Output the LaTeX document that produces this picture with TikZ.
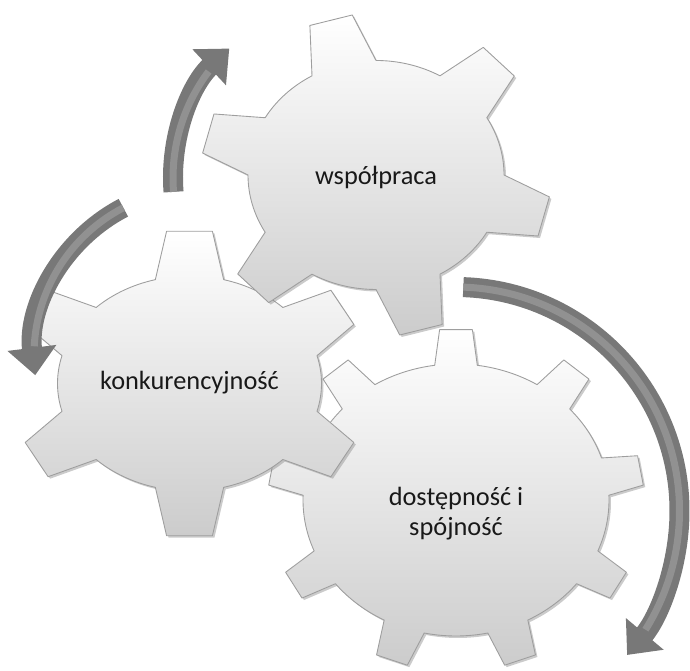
\documentclass[tikz,border=0pt]{standalone}
\usepackage{fontspec}
\setmainfont{Carlito}
\usetikzlibrary{arrows.meta,calc}
\definecolor{GearEdge}{gray}{0.62}
\definecolor{ArrowClr}{gray}{0.47}
\definecolor{ArrowLight}{gray}{0.57}

% centre x, centre y, body x radius, body y radius, tooth height, teeth, first tooth, half base, half tip
\newcommand{\gearPath}[9]{%
  ({#1+#3*cos(#7-#8)},{#2+#4*sin(#7-#8)})
  \foreach \k [evaluate=\k as \ang using #7+(\k-1)*360/#6] in {1,...,#6}{
    -- ({#1+(#3+#5)*cos(\ang-#9)},{#2+(#4+#5)*sin(\ang-#9)})
    -- ({#1+(#3+#5)*cos(\ang+#9)},{#2+(#4+#5)*sin(\ang+#9)})
    -- ({#1+#3*cos(\ang+#8)},{#2+#4*sin(\ang+#8)})
    arc[start angle={\ang+#8}, end angle={\ang+360/#6-#8}, x radius=#3, y radius=#4]
  } -- cycle}

\begin{document}
\begin{tikzpicture}[x=0.02cm,y=0.02cm,
  gear/.style={draw=GearEdge,line width=0.5pt,line join=round,top color=white,middle color=black!5,bottom color=black!20},
  gearshade/.style={fill=black!45,draw=none,opacity=0.45},
  turnarrow/.style={draw=ArrowClr,line width=0.4cm,-{Triangle[width=0.95cm,length=0.55cm]}},
  turnlight/.style={draw=ArrowLight,line width=0.14cm},
  gearlabel/.style={font=\fontsize{15}{17}\selectfont,text=black!90,align=center}]
\useasboundingbox (0,0) rectangle (690,671);

\coordinate (arcA) at (350,493);
\coordinate (arcB) at (200,316);
\coordinate (arcC) at (455.5,160);

\path[gearshade,shift={(2,-2)}] \gearPath{456}{171}{153}{136}{35}{9}{90}{8}{5};
\path[gear] \gearPath{456}{171}{153}{136}{35}{9}{90}{8}{5};

\path[gearshade,shift={(2,-2)}] \gearPath{189.5}{287.5}{132}{107.5}{46}{6}{90}{15}{7.4};
\path[gear] \gearPath{189.5}{287.5}{132}{107.5}{46}{6}{90}{15}{7.4};

\path[gearshade,shift={(2,-2)}] \gearPath{376}{496}{128}{114.5}{47}{6}{105}{15}{7.2};
\path[gear] \gearPath{376}{496}{128}{114.5}{47}{6}{105}{15}{7.2};

\node[gearlabel] (coop) at (376,494) {współpraca};
\node[gearlabel] (compet) at (189.5,288) {konkurencyjność};
\node[gearlabel] (access) at (456,157) {dostępność i\\spójność};

\draw[turnarrow] ([shift={(184.5:177)}]arcA) arc[start angle=184.5,end angle=133,radius=177];
\draw[turnlight] ([shift={(184.5:177)}]arcA) arc[start angle=184.5,end angle=143,radius=177];

\draw[turnarrow] ([shift={(117.5:166)}]arcB) arc[start angle=117.5,end angle=187,radius=166];
\draw[turnlight] ([shift={(117.5:166)}]arcB) arc[start angle=117.5,end angle=177,radius=166];

\draw[turnarrow] ([shift={(88:224)}]arcC) arc[start angle=88,end angle=-40,radius=224];
\draw[turnlight] ([shift={(88:224)}]arcC) arc[start angle=88,end angle=-32,radius=224];

\end{tikzpicture}
\end{document}
